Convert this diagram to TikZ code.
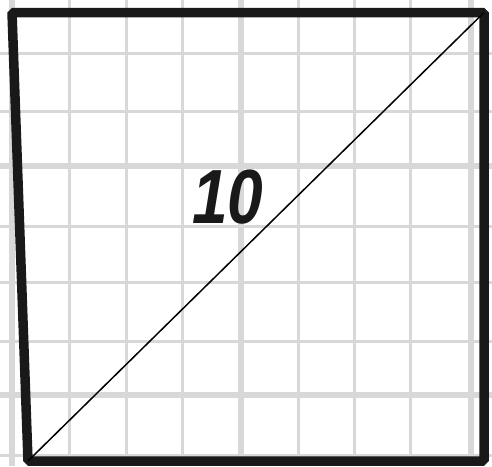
\documentclass[tikz,border=0pt]{standalone}
\usepackage{fontspec}
\usepackage{graphicx}
\newfontfamily\handfont{Liberation Sans}
\usetikzlibrary{calc}
\definecolor{gridgray}{HTML}{D8D8D8}
\definecolor{inkblack}{HTML}{191919}
\tikzset{
  gridline/.style={draw=gridgray, line width=3pt},
  majorline/.style={draw=gridgray, line width=5.5pt},
  frame/.style={draw=inkblack, line width=9.5pt, line join=bevel},
  diagline/.style={draw=black, line width=1.5pt},
  sidelabel/.style={font=\handfont\bfseries\itshape\fontsize{64}{64}\selectfont, text=inkblack, inner sep=0pt}
}

\begin{document}
\begin{tikzpicture}[x=1pt, y=-1pt]
  \useasboundingbox (0,0) rectangle (492,466);

  % graph paper
  \foreach \x in {69,126,182,298,354,410} {
    \draw[gridline] (\x,0) -- (\x,466);
  }
  \foreach \x in {12,241,471} {
    \draw[majorline] (\x,0) -- (\x,466);
  }
  \foreach \y in {53,111,226,282,341,455} {
    \draw[gridline] (0,\y) -- (492,\y);
  }
  \foreach \y in {166,395} {
    \draw[majorline] (0,\y) -- (492,\y);
  }

  % square and its diagonal
  \coordinate (tl) at (12,12.5);
  \coordinate (tr) at (484,12.5);
  \coordinate (br) at (484,461);
  \coordinate (bl) at (28,461);
  \draw[frame] (tl) -- (tr) -- (br) -- (bl) -- cycle;
  \draw[diagline] (bl) -- (tr);

  \node[sidelabel] (len) at (228,197) {\scalebox{1}[1.2]{10}};
\end{tikzpicture}
\end{document}
